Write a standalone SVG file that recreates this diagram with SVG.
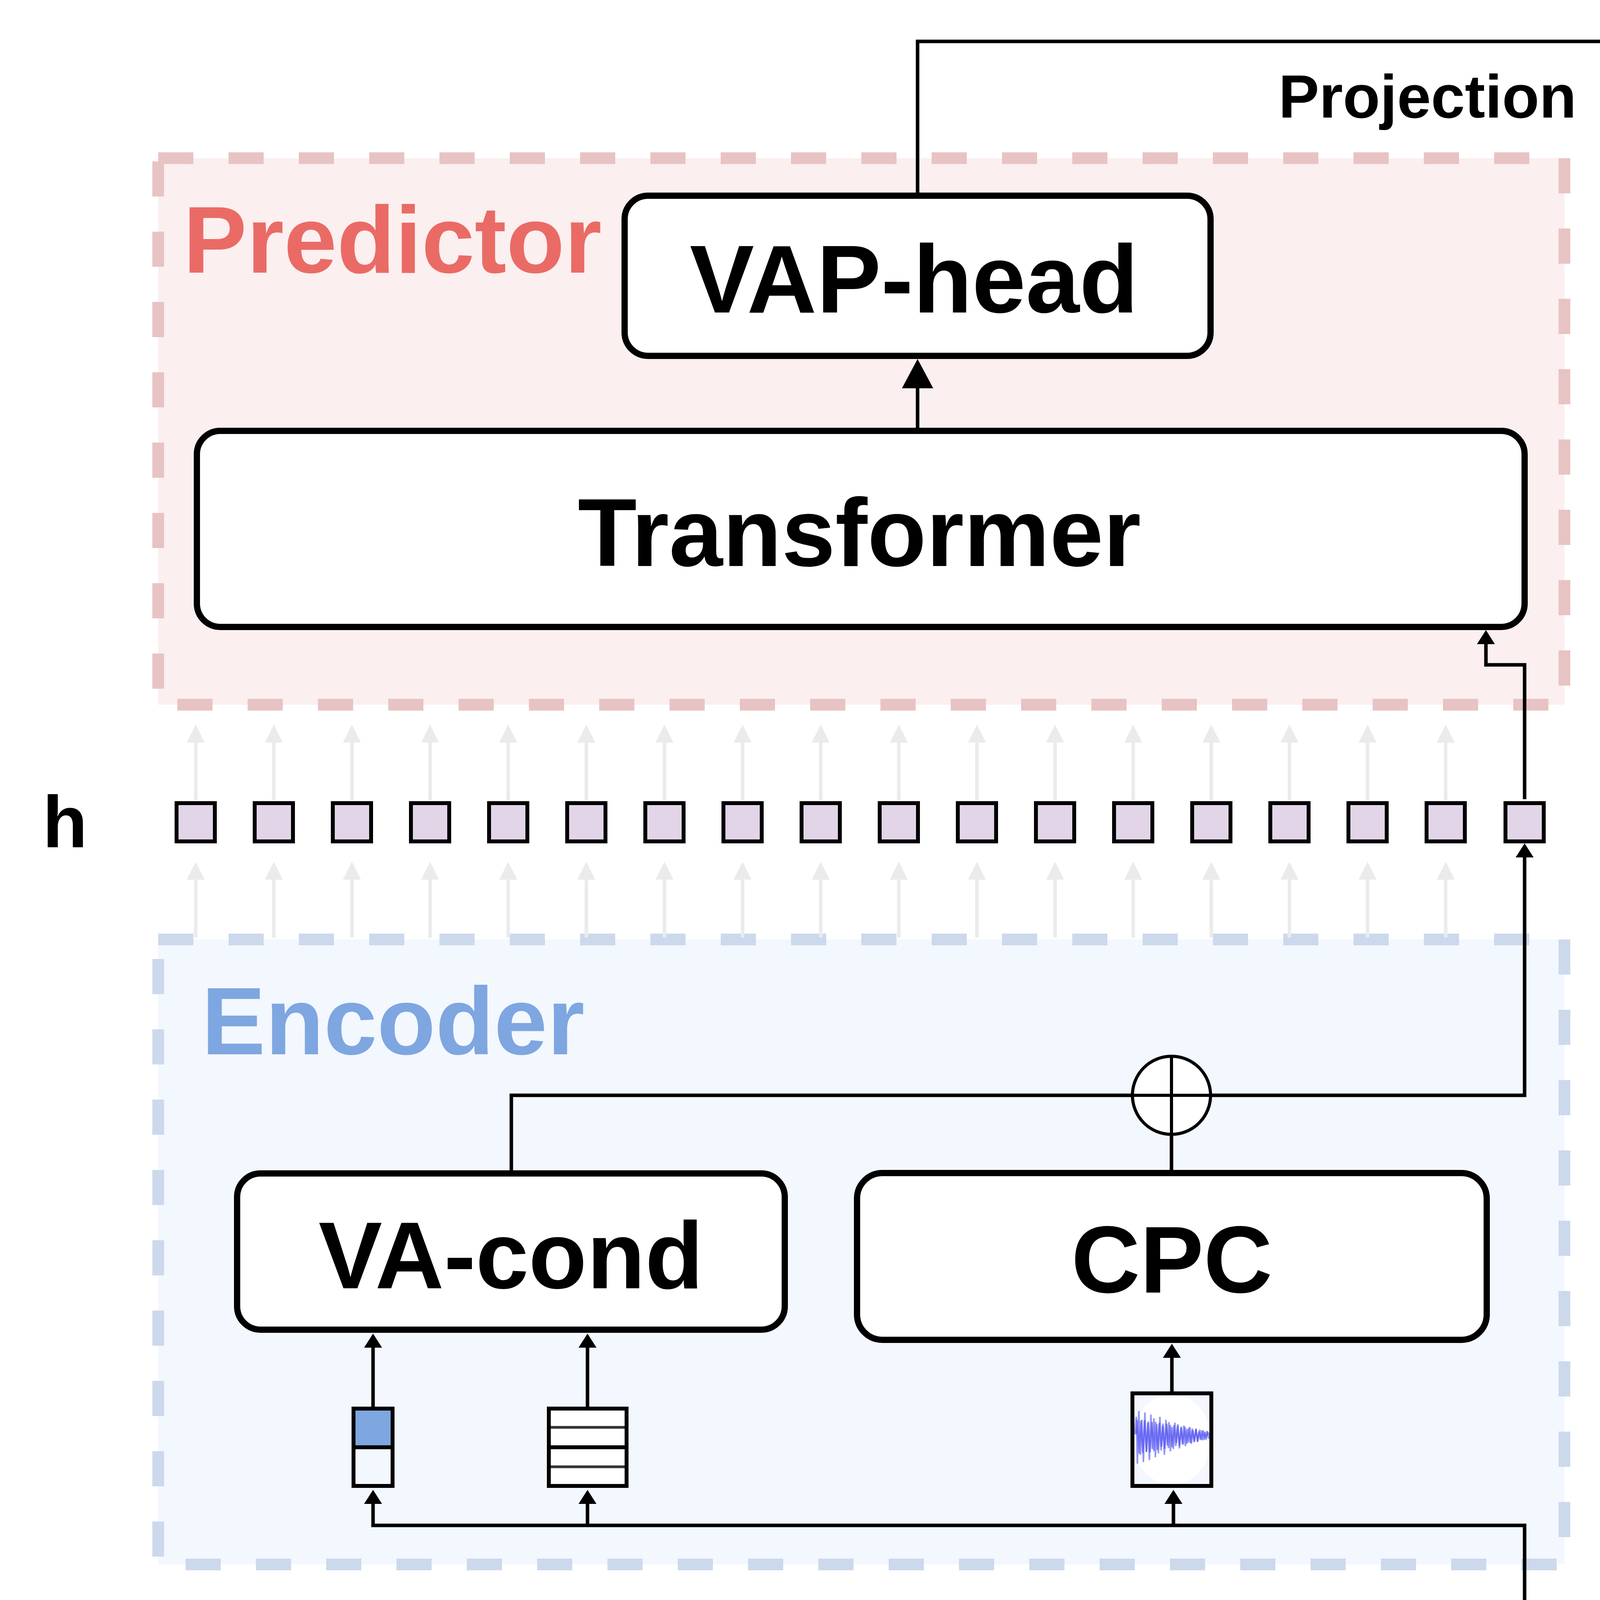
<svg xmlns="http://www.w3.org/2000/svg" width="5800" height="5730" viewBox="0 0 5800 5730">
<defs>
<style>
.t{font-family:"Liberation Sans",Arial,Helvetica,sans-serif}
.b{font-weight:bold}
.box{fill:#fff;stroke:#000;stroke-width:16}
.grid{fill:none;stroke:#CCCCCC;stroke-width:9}
.blk{fill:none;stroke:#000;stroke-width:10}
.band{fill:#EFEFEF;stroke:#E3E3E3;stroke-width:6}
.conn{fill:none;stroke:#000;stroke-width:9}
.wave{fill:none;stroke:#4040F0;stroke-opacity:.55;stroke-width:4}
.blob{fill:#0000FF}
.blue{fill:#7EA6E0}
.yel{fill:#FFD966}
</style>
<marker id="mb" viewBox="0 0 36 46" refX="0" refY="23" markerWidth="36" markerHeight="46" markerUnits="userSpaceOnUse" orient="auto"><path d="M0,0L36,23L0,46Z" fill="#000"/></marker>
<marker id="mbig" viewBox="0 0 75 80" refX="0" refY="40" markerWidth="75" markerHeight="80" markerUnits="userSpaceOnUse" orient="auto"><path d="M0,0L75,40L0,80Z" fill="#000"/></marker>
<marker id="mp" viewBox="0 0 60 60" refX="0" refY="30" markerWidth="60" markerHeight="60" markerUnits="userSpaceOnUse" orient="auto"><path d="M0,0L60,30L0,60Z" fill="#000"/></marker>
<marker id="mg" viewBox="0 0 46 46" refX="0" refY="23" markerWidth="46" markerHeight="46" markerUnits="userSpaceOnUse" orient="auto"><path d="M0,0L46,23L0,46Z" fill="#EBEBEB"/></marker>
<marker id="mgr" viewBox="0 0 70 64" refX="0" refY="32" markerWidth="70" markerHeight="64" markerUnits="userSpaceOnUse" orient="auto"><path d="M0,0L70,32L0,64Z" fill="#6D8764"/></marker>
<marker id="mlg" viewBox="0 0 32 36" refX="0" refY="18" markerWidth="32" markerHeight="36" markerUnits="userSpaceOnUse" orient="auto"><path d="M0,0L32,18L0,36Z" fill="#B9E0A5"/></marker>
<marker id="mr" viewBox="0 0 32 36" refX="0" refY="18" markerWidth="32" markerHeight="36" markerUnits="userSpaceOnUse" orient="auto"><path d="M0,0L32,18L0,36Z" fill="#FF0000"/></marker>
<marker id="mf" viewBox="0 0 28 30" refX="0" refY="15" markerWidth="28" markerHeight="30" markerUnits="userSpaceOnUse" orient="auto"><path d="M0,0L28,15L0,30Z" fill="#EEEEEE"/></marker>
<path id="gup" d="M0,0V-148" fill="none" stroke="#EBEBEB" stroke-width="9" marker-end="url(#mg)"/>
<path id="dec" vector-effect="non-scaling-stroke" d="M0,0 L5,-75 L15,98 L25,-70 L35,96 L45,-72 L55,90 L65,-66 L75,92 L85,-63 L95,85 L105,-64 L115,80 L125,-58 L135,82 L145,-55 L155,74 L165,-55 L175,70 L185,-48 L195,66 L205,-47 L215,60 L225,-44 L235,58 L245,-40 L255,52 L265,-38 L275,48 L285,-33 L295,44 L305,-30 L315,40 L325,-26 L335,35 L345,-24 L355,30 L365,-20 L375,26 L385,-17 L395,22 L400,0"/>
<path id="dec2" vector-effect="non-scaling-stroke" d="M0,0 L8,-60 L14,100 L22,-80 L30,70 L38,-50 L46,95 L54,-75 L62,60 L70,-40 L78,88 L86,-68 L94,50 L102,-55 L110,78 L118,-35 L126,65 L134,-60 L142,42 L150,-30 L158,70 L166,-50 L174,38 L182,-42 L190,58 L198,-25 L206,50 L214,-40 L222,30 L230,-35 L238,48 L246,-22 L254,34 L262,-30 L270,40 L278,-18 L286,28 L294,-25 L302,32 L310,-14 L318,24 L326,-20 L334,26 L342,-10 L350,18 L358,-14 L366,20 L374,-8 L382,12 L390,-6 L400,0"/>
<path id="bell" vector-effect="non-scaling-stroke" d="M0,0 L5,-15 L15,30 L25,-28 L35,45 L45,-38 L55,55 L65,-46 L75,68 L85,-55 L95,80 L105,-62 L115,87 L125,-67 L135,94 L145,-73 L155,100 L165,-75 L175,98 L185,-73 L195,95 L205,-70 L215,90 L225,-65 L235,83 L245,-59 L255,76 L265,-54 L275,67 L285,-47 L295,57 L305,-39 L315,47 L325,-32 L335,38 L345,-26 L355,30 L365,-20 L375,22 L385,-14 L395,15 L400,0"/>
<path id="bell2" vector-effect="non-scaling-stroke" d="M0,0 L8,-12 L16,25 L24,-20 L32,40 L40,-35 L48,30 L56,-45 L64,62 L72,-40 L80,75 L88,-60 L96,50 L104,-70 L112,92 L120,-55 L128,85 L136,-75 L144,60 L152,-80 L160,100 L168,-62 L176,90 L184,-78 L192,70 L200,-68 L208,95 L216,-50 L224,80 L232,-65 L240,55 L248,-58 L256,72 L264,-40 L272,60 L280,-48 L288,42 L296,-38 L304,55 L312,-28 L320,40 L328,-30 L336,28 L344,-22 L352,32 L360,-15 L368,20 L376,-12 L384,14 L392,-6 L400,0"/>
<path id="blobp" d="M0,-10 L10,-50 L20,-70 L30,-60 L40,-85 L50,-65 L60,-90 L70,-70 L80,-95 L90,-75 L100,-88 L110,-70 L120,-100 L130,-72 L140,-85 L150,-65 L160,-90 L170,-75 L180,-95 L190,-70 L200,-85 L210,-68 L220,-92 L230,-75 L240,-85 L250,-65 L260,-80 L270,-60 L280,-75 L290,-55 L300,-70 L310,-50 L320,-60 L330,-40 L340,-48 L350,-30 L360,-35 L370,-20 L380,-22 L390,-10 L400,-4 L400,4 L390,10 L380,25 L370,20 L360,40 L350,35 L340,55 L330,45 L320,70 L310,55 L300,80 L290,65 L280,90 L270,70 L260,100 L250,75 L240,95 L230,80 L220,105 L210,85 L200,100 L190,80 L180,110 L170,85 L160,100 L150,80 L140,105 L130,85 L120,110 L110,80 L100,100 L90,85 L80,105 L70,80 L60,100 L50,75 L40,95 L30,65 L20,80 L10,50 L0,10 Z"/>
<clipPath id="xclip"><rect x="401" y="4310" width="3600" height="292"/></clipPath>
<clipPath id="cpi"><rect x="2904" y="3572" width="192" height="227"/></clipPath>
</defs>
<rect width="5800" height="5730" fill="#fff"/>

<g id="predictor-container">
<rect x="405" y="405" width="3600" height="1399" fill="#FBEFEF" stroke="#E8C3C3" stroke-width="30" stroke-dasharray="90 90"/>
<text class="t b" x="469" y="698" font-size="244" fill="#EA6B66">Predictor</text>
</g>
<g id="encoder-container">
<rect x="405" y="2405" width="3600" height="1600" fill="#F3F7FE" stroke="#CCD9EC" stroke-width="30" stroke-dasharray="90 90"/>
<text class="t b" x="516" y="2699" font-size="245" fill="#7EA6E0">Encoder</text>
</g>
<g id="loss-container">
<rect x="4284" y="422" width="1499" height="1382" fill="#F1F7F0" stroke="#D4E6D0" stroke-width="30" stroke-dasharray="90 90"/>
<rect x="4384" y="570" width="1299" height="1088" fill="#fff" stroke="#000" stroke-width="10"/>
</g>

<g id="connectors">
<g id="ghost-arrows">
<use href="#gup" x="501" y="2049"/><use href="#gup" x="701" y="2049"/><use href="#gup" x="901" y="2049"/><use href="#gup" x="1101" y="2049"/><use href="#gup" x="1301" y="2049"/><use href="#gup" x="1501" y="2049"/><use href="#gup" x="1701" y="2049"/><use href="#gup" x="1901" y="2049"/><use href="#gup" x="2101" y="2049"/><use href="#gup" x="2301" y="2049"/><use href="#gup" x="2501" y="2049"/><use href="#gup" x="2701" y="2049"/><use href="#gup" x="2901" y="2049"/><use href="#gup" x="3101" y="2049"/><use href="#gup" x="3301" y="2049"/><use href="#gup" x="3501" y="2049"/><use href="#gup" x="3701" y="2049"/>
<use href="#gup" x="501" y="2400"/><use href="#gup" x="701" y="2400"/><use href="#gup" x="901" y="2400"/><use href="#gup" x="1101" y="2400"/><use href="#gup" x="1301" y="2400"/><use href="#gup" x="1501" y="2400"/><use href="#gup" x="1701" y="2400"/><use href="#gup" x="1901" y="2400"/><use href="#gup" x="2101" y="2400"/><use href="#gup" x="2301" y="2400"/><use href="#gup" x="2501" y="2400"/><use href="#gup" x="2701" y="2400"/><use href="#gup" x="2901" y="2400"/><use href="#gup" x="3101" y="2400"/><use href="#gup" x="3301" y="2400"/><use href="#gup" x="3501" y="2400"/><use href="#gup" x="3701" y="2400"/>
<use href="#gup" x="501" y="4300"/><use href="#gup" x="701" y="4300"/><use href="#gup" x="901" y="4300"/><use href="#gup" x="1101" y="4300"/><use href="#gup" x="1301" y="4300"/><use href="#gup" x="1501" y="4300"/><use href="#gup" x="1701" y="4300"/><use href="#gup" x="1901" y="4300"/><use href="#gup" x="2101" y="4300"/><use href="#gup" x="2301" y="4300"/><use href="#gup" x="2501" y="4300"/><use href="#gup" x="2701" y="4300"/><use href="#gup" x="2901" y="4300"/><use href="#gup" x="3101" y="4300"/><use href="#gup" x="3301" y="4300"/><use href="#gup" x="3501" y="4300"/><use href="#gup" x="3701" y="4300"/>
<path d="M3903,4918V5175" fill="none" stroke="#EEEEEE" stroke-width="8" marker-end="url(#mf)"/>
<path d="M4016,4815H4095" fill="none" stroke="#EEEEEE" stroke-width="8"/>
</g>
<path class="conn" d="M2349,501V106H5034V355" stroke-width="11" marker-end="url(#mp)"/>
<path class="conn" d="M2349,1096V994" marker-end="url(#mbig)"/>
<path class="conn" d="M3903,2046V1702H3804V1649" stroke-width="8" marker-end="url(#mb)"/>
<path class="conn" d="M1309,2996V2804H3903V2195" stroke-width="8" marker-end="url(#mb)"/>
<path class="conn" d="M2999,2995V2904" stroke-width="8"/>
<path class="conn" d="M955,3601V3450" marker-end="url(#mb)"/>
<path class="conn" d="M1504,3601V3450" marker-end="url(#mb)"/>
<path class="conn" d="M3000,3562V3476" marker-end="url(#mb)"/>
<path class="conn" d="M3903,4306V3905H955V3850" marker-end="url(#mb)"/>
<path class="conn" d="M1504,3905V3850" marker-end="url(#mb)"/>
<path class="conn" d="M3004,3905V3850" marker-end="url(#mb)"/>
<path d="M4915,4912H5034V1885" fill="none" stroke="#6D8764" stroke-width="14" marker-end="url(#mgr)"/>
<path d="M4906,1287V1238C4906,1205 4870,1188 4830,1188H4705C4690,1188 4682,1184 4682,1178V1176" fill="none" stroke="#B9E0A5" stroke-width="8" marker-end="url(#mlg)"/>
<path d="M5181,1287V1238C5181,1205 5215,1188 5255,1188H5362C5378,1188 5385,1184 5385,1178V1176" fill="none" stroke="#FF0000" stroke-width="8" marker-end="url(#mr)"/>
</g>

<g id="projection-label"><text class="t b" x="3273" y="301" font-size="156">Projection</text></g>

<g id="vap-head">
<rect x="1599" y="501" width="1500" height="410" rx="60" class="box" stroke-width="15"/>
<text class="t b" x="2340" y="800" font-size="247" text-anchor="middle">VAP-head</text>
</g>
<g id="transformer">
<rect x="504" y="1103" width="3399" height="502" rx="60" class="box" stroke-width="15"/>
<text class="t b" x="2200" y="1449" font-size="247" text-anchor="middle">Transformer</text>
</g>

<g id="h-row">
<text class="t b" x="109" y="2169" font-size="188">h</text>
<g fill="#E1D5E7" stroke="#000" stroke-width="10">
<rect x="452" y="2056" width="98" height="98"/><rect x="652" y="2056" width="98" height="98"/><rect x="852" y="2056" width="98" height="98"/><rect x="1052" y="2056" width="98" height="98"/><rect x="1252" y="2056" width="98" height="98"/><rect x="1452" y="2056" width="98" height="98"/><rect x="1652" y="2056" width="98" height="98"/><rect x="1852" y="2056" width="98" height="98"/><rect x="2052" y="2056" width="98" height="98"/><rect x="2252" y="2056" width="98" height="98"/><rect x="2452" y="2056" width="98" height="98"/><rect x="2652" y="2056" width="98" height="98"/><rect x="2852" y="2056" width="98" height="98"/><rect x="3052" y="2056" width="98" height="98"/><rect x="3252" y="2056" width="98" height="98"/><rect x="3452" y="2056" width="98" height="98"/><rect x="3652" y="2056" width="98" height="98"/><rect x="3854" y="2056" width="98" height="98"/>
</g>
</g>

<g id="sum">
<circle cx="2999" cy="2804" r="100" fill="#fff" stroke="#000" stroke-width="8"/>
<path d="M2899,2804H3099M2999,2704V2904" stroke="#000" stroke-width="8"/>
</g>
<g id="va-cond">
<rect x="607" y="3004" width="1402" height="400" rx="60" class="box"/>
<text class="t b" x="1308" y="3298" font-size="244" text-anchor="middle">VA-cond</text>
</g>
<g id="cpc">
<rect x="2194" y="3003" width="1612" height="427" rx="65" class="box"/>
<text class="t b" x="3000" y="3309" font-size="244" text-anchor="middle">CPC</text>
</g>
<g id="vf-icon">
<rect x="905" y="3606" width="100" height="99" class="blue"/>
<rect x="905" y="3606" width="100" height="198" class="blk"/>
<path d="M905,3705H1005" stroke="#000" stroke-width="10"/>
</g>
<g id="vh-icon">
<rect x="1405" y="3606" width="199" height="198" fill="#fff"/>
<path d="M1405,3654H1604M1405,3755H1604" stroke="#333" stroke-width="7"/>
<path d="M1405,3705H1604" stroke="#000" stroke-width="10"/>
<rect x="1405" y="3606" width="199" height="198" class="blk"/>
</g>
<g id="x-icon">
<rect x="2899" y="3567" width="202" height="237" fill="#F3F7FE"/>
<g clip-path="url(#cpi)">
<ellipse cx="3000" cy="3685" rx="100" ry="116" fill="#fff"/>
<use href="#dec2" class="wave" transform="translate(2905,3672) scale(0.48,0.75)"/>
<use href="#dec" class="wave" transform="translate(2909,3672) scale(0.47,0.5)"/>
</g>
<rect x="2899" y="3567" width="202" height="237" class="blk"/>
</g>

<g id="row-labels">
<text class="t b" x="121" y="4524" font-size="190">x</text>
<text class="t" x="121" y="5018" font-size="190"><tspan font-weight="bold">v</tspan><tspan x="233" y="4950">f</tspan></text>
<text class="t" x="121" y="5428" font-size="190"><tspan font-weight="bold">v</tspan><tspan x="241" y="5357">h</tspan></text>
<text class="t b" x="122" y="5630" font-size="190">t</text>
</g>

<g id="bands">
<rect x="3" y="4607" width="3998" height="100" class="band"/>
<rect x="3" y="5110" width="3998" height="100" class="band"/>
<rect x="3" y="5410" width="3998" height="95" class="band"/>
</g>

<g id="x-row">
<rect x="401" y="4306" width="3600" height="300" fill="#fff"/>
<g clip-path="url(#xclip)">
<path d="M401,4436H4001" stroke="#A8A8F0" stroke-width="3"/>
<use href="#dec" class="wave" transform="translate(401,4436) scale(1.77,1.57)"/>
<use href="#dec2" class="wave" transform="translate(408,4436) scale(1.74,1.5)"/>
<use href="#blobp" class="blob" transform="translate(1105,4440) scale(0.95,0.33)"/>
<path d="M1415,4386V4495" class="wave"/>
<use href="#blobp" class="blob" transform="translate(1607,4436) scale(0.25,0.14)"/>
<use href="#bell" class="wave" transform="translate(1707,4436) scale(0.725,0.95)"/>
<use href="#bell2" class="wave" transform="translate(1712,4436) scale(0.72,0.95)"/>
<use href="#blobp" class="blob" transform="translate(2217,4438) scale(0.445,0.24)"/>
<use href="#bell" class="wave" transform="translate(2395,4436) scale(1.01,1.4)"/>
<use href="#bell2" class="wave" transform="translate(2403,4436) scale(1,1.45)"/>
<use href="#blobp" class="blob" transform="translate(2800,4438) scale(0.975,0.45)"/>
<use href="#blobp" class="blob" transform="translate(3355,4436) scale(0.25,0.17)"/>
<use href="#bell" class="wave" transform="translate(3454,4436) scale(0.42,1.2)"/>
<use href="#bell2" class="wave" transform="translate(3458,4436) scale(0.41,1.25)"/>
<use href="#dec" class="wave" transform="translate(3600,4436) scale(1,1)"/>
<use href="#dec2" class="wave" transform="translate(3605,4436) scale(0.98,1.05)"/>
</g>
<rect x="401" y="4306" width="3400" height="300" class="grid"/>
<path class="grid" d="M601,4306V4606M801,4306V4606M1001,4306V4606M1201,4306V4606M1401,4306V4606M1601,4306V4606M1801,4306V4606M2001,4306V4606M2201,4306V4606M2401,4306V4606M2601,4306V4606M2801,4306V4606M3001,4306V4606M3201,4306V4606M3401,4306V4606M3601,4306V4606"/>
<rect x="3801" y="4306" width="200" height="300" class="blk"/>
</g>

<g id="vf-row">
<rect x="401" y="4708" width="3600" height="402" fill="#fff"/>
<rect x="401" y="4708" width="1101" height="201" class="blue"/>
<rect x="2201" y="4708" width="1800" height="201" class="blue"/>
<rect x="1601" y="4909" width="400" height="201" class="yel"/>
<rect x="401" y="4708" width="3400" height="402" class="grid"/>
<path class="grid" d="M401,4909H3801M601,4708V5110M801,4708V5110M1001,4708V5110M1201,4708V5110M1401,4708V5110M1601,4708V5110M1801,4708V5110M2001,4708V5110M2201,4708V5110M2401,4708V5110M2601,4708V5110M2801,4708V5110M3001,4708V5110M3201,4708V5110M3401,4708V5110M3601,4708V5110"/>
<rect x="3801" y="4708" width="200" height="402" class="blk"/>
<path d="M3801,4909H4001" stroke="#000" stroke-width="10"/>
</g>

<g id="vh-row">
<rect x="401" y="5210" width="3600" height="200" fill="#fff"/>
<rect x="401" y="5210" width="3400" height="200" class="grid"/>
<path class="grid" d="M401,5260H3801M401,5310H3801M401,5360H3801M601,5210V5410M801,5210V5410M1001,5210V5410M1201,5210V5410M1401,5210V5410M1601,5210V5410M1801,5210V5410M2001,5210V5410M2201,5210V5410M2401,5210V5410M2601,5210V5410M2801,5210V5410M3001,5210V5410M3201,5210V5410M3401,5210V5410M3601,5210V5410"/>
<path d="M3801,5260H4001M3801,5360H4001" stroke="#333" stroke-width="8"/>
<path d="M3801,5310H4001" stroke="#000" stroke-width="10"/>
<rect x="3801" y="5210" width="200" height="200" class="blk"/>
</g>

<g id="time-labels">
<text class="t b" font-size="150" y="5628" text-anchor="middle"><tspan x="515">0</tspan><tspan x="704">1</tspan><tspan x="907">2</tspan></text>
<text class="t b" x="2104" y="5609" font-size="150" text-anchor="middle" letter-spacing="10">···</text>
<text class="t" font-size="150" y="5628"><tspan x="3411" font-weight="bold">t</tspan>-2<tspan x="3611" font-weight="bold">t</tspan>-1<tspan x="3877" font-weight="bold">t</tspan></text>
</g>

<g id="current-time">
<path d="M4001,4104V5725" stroke="#FF0000" stroke-width="29"/>
<text class="t b" x="4091" y="5628" font-size="156" fill="#FF0000">Current time</text>
</g>

<g id="label">
<text class="t b" x="4188" y="4627" font-size="208" fill="#9AB988">Label</text>
<rect x="4104.5" y="4713.5" width="200.5" height="202" class="blue"/>
<rect x="4505" y="4915.5" width="400.5" height="202" class="yel"/>
<rect x="4104.5" y="4713.5" width="801" height="404" fill="none" stroke="#000" stroke-width="19"/>
<path d="M4305,4713.5V5117.5M4505,4713.5V5117.5M4705,4713.5V5117.5M4104.5,4915.5H4905.5" stroke="#000" stroke-width="19"/>
</g>

<g id="cross-entropy">
<text class="t b" x="5023" y="870" font-size="178" text-anchor="middle">Cross Entropy</text>
<rect x="4486.5" y="942.5" width="98.25" height="97" class="blue"/>
<rect x="4683" y="1039.5" width="196.5" height="97" class="yel"/>
<rect x="4486.5" y="942.5" width="393" height="194" fill="none" stroke="#000" stroke-width="9"/>
<path d="M4584.75,942.5V1136.5M4683,942.5V1136.5M4781.25,942.5V1136.5M4486.5,1039.5H4879.5" stroke="#000" stroke-width="9"/>
<rect x="5285.25" y="942.5" width="296.25" height="97" class="blue"/>
<rect x="5186.5" y="942.5" width="395" height="194" fill="none" stroke="#000" stroke-width="9"/>
<path d="M5285.25,942.5V1136.5M5384,942.5V1136.5M5482.75,942.5V1136.5M5186.5,1039.5H5581.5" stroke="#000" stroke-width="9"/>
<rect x="4459.5" y="1291.5" width="824" height="63" fill="#fff" stroke="#000" stroke-width="9"/>
<path d="M4528.2,1291.5V1354.5M4596.8,1291.5V1354.5M4665.5,1291.5V1354.5M4734.2,1291.5V1354.5M4802.8,1291.5V1354.5M4871.5,1291.5V1354.5M4940.2,1291.5V1354.5M5008.8,1291.5V1354.5M5077.5,1291.5V1354.5M5146.2,1291.5V1354.5M5214.8,1291.5V1354.5" stroke="#000" stroke-width="9"/>
<rect x="4871.5" y="1291.5" width="68.7" height="63" fill="#fff" stroke="#B9E0A5" stroke-width="9"/>
<rect x="5146.2" y="1291.5" width="68.7" height="63" fill="#fff" stroke="#FF0000" stroke-width="9"/>
<text class="t" x="5273" y="1412" font-size="150">(256,)</text>
</g>
</svg>
